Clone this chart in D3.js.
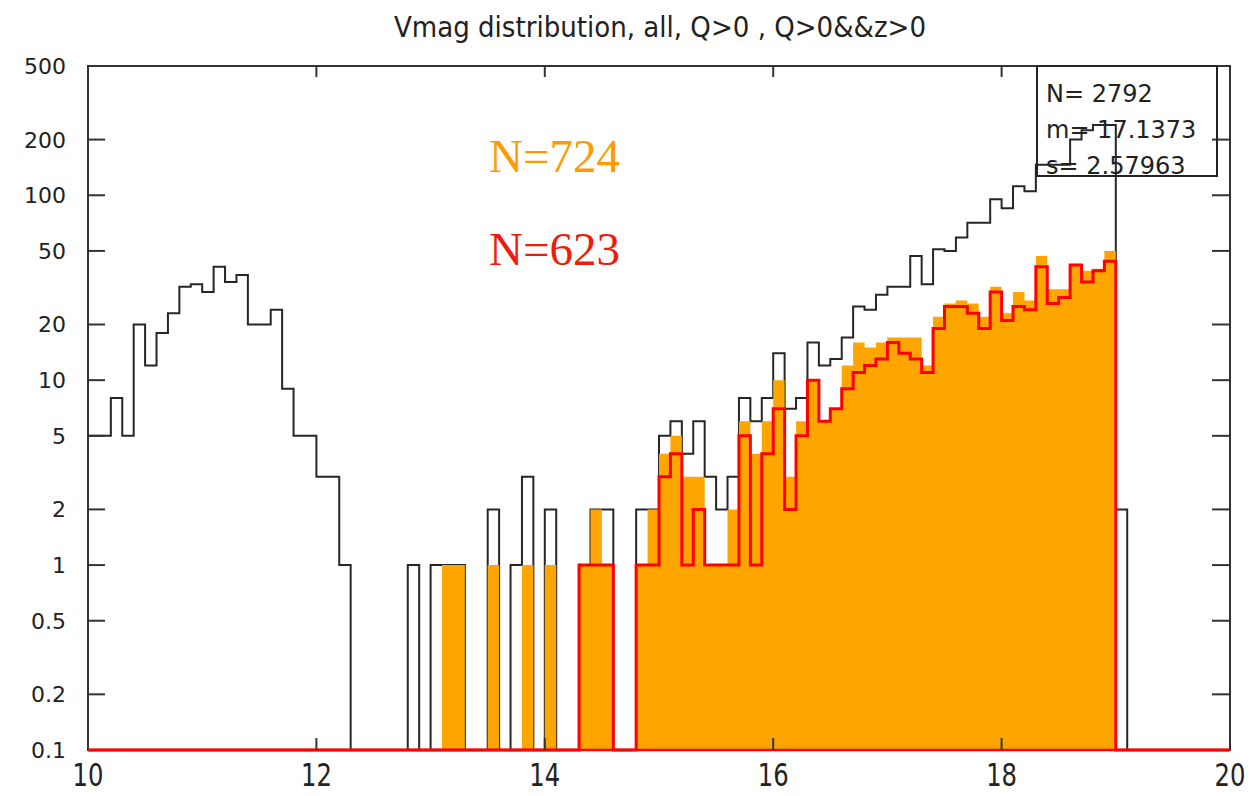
<!DOCTYPE html>
<html>
<head>
<meta charset="utf-8">
<script src="https://cdn.jsdelivr.net/npm/d3@7"></script>
<style>
  html, body { margin: 0; padding: 0; background: #fff; }
  svg { display: block; }
</style>
</head>
<body>
<svg id="chart" width="1250" height="796"></svg>
<script>
// ---------------- data ----------------
const titleText = "Vmag distribution, all, Q>0 , Q>0&&z>0";
const xMin = 10, xMax = 20, binWidth = 0.1;
const xTickValues = [10, 12, 14, 16, 18, 20];
const yTickValues = [0.1, 0.2, 0.5, 1, 2, 5, 10, 20, 50, 100, 200, 500];
const yTickLabels = ["0.1", "0.2", "0.5", "1", "2", "5", "10", "20", "50", "100", "200", "500"];

// counts per 0.1-mag bin, starting at 10.0 (100 bins)
const allCounts = [
  5, 5, 8, 5, 20, 12, 18, 23, 32, 33,      // 10.0-10.9
  30, 41, 34, 37, 20, 20, 24, 9, 5, 5,     // 11.0-11.9
  3, 3, 1, 0, 0, 0, 0, 0, 1, 0,            // 12.0-12.9
  1, 1, 1, 0, 0, 2, 0, 1, 3, 0,            // 13.0-13.9
  2, 0, 0, 1, 2, 2, 0, 0, 2, 2,            // 14.0-14.9
  5, 6, 4, 6, 3, 2, 3, 8, 6, 8,            // 15.0-15.9
  14, 7, 8, 16, 12, 13, 17, 25, 24, 29,    // 16.0-16.9
  32, 32, 47, 33, 51, 50, 59, 71, 71, 95,  // 17.0-17.9
  85, 112, 105, 146, 146, 146, 200, 225, 240, 240, // 18.0-18.9
  2, 0, 0, 0, 0, 0, 0, 0, 0, 0             // 19.0-19.9
];
const qCounts = [
  0, 0, 0, 0, 0, 0, 0, 0, 0, 0,
  0, 0, 0, 0, 0, 0, 0, 0, 0, 0,
  0, 0, 0, 0, 0, 0, 0, 0, 0, 0,
  0, 1, 1, 0, 0, 1, 0, 0, 1, 0,
  1, 0, 0, 1, 2, 1, 0, 0, 1, 2,
  4, 5, 3, 3, 1, 1, 2, 6, 4, 6,
  10, 3, 6, 10, 6, 7, 12, 16, 15, 16,
  17, 17, 17, 12, 22, 26, 27, 26, 22, 32,
  23, 30, 27, 47, 31, 31, 42, 39, 40, 50,
  0, 0, 0, 0, 0, 0, 0, 0, 0, 0
];
const qzCounts = [
  0, 0, 0, 0, 0, 0, 0, 0, 0, 0,
  0, 0, 0, 0, 0, 0, 0, 0, 0, 0,
  0, 0, 0, 0, 0, 0, 0, 0, 0, 0,
  0, 0, 0, 0, 0, 0, 0, 0, 0, 0,
  0, 0, 0, 1, 1, 1, 0, 0, 1, 1,
  3, 4, 1, 2, 1, 1, 1, 5, 1, 4,
  7, 2, 5, 10, 6, 7, 9, 11, 12, 13,
  16, 14, 13, 11, 19, 25, 25, 23, 19, 30,
  21, 25, 24, 41, 26, 28, 42, 34, 39, 44,
  0, 0, 0, 0, 0, 0, 0, 0, 0, 0
];
const statsLines = ["N= 2792", "m= 17.1373", "s= 2.57963"];
const annotations = [
  { text: "N=724", color: "#FF9A00" },
  { text: "N=623", color: "#EE1C0C" }
];

// ---------------- layout ----------------
const svg = d3.select("#chart");
const L = 88, R = 1230, T = 66, B = 750;
const x = d3.scaleLinear().domain([xMin, xMax]).range([L, R]);
const y = d3.scaleLog().domain([0.1, 500]).range([B, T]);
const yv = v => y(Math.max(v, 0.1));

const edges = allCounts.map((_, i) => xMin + i * binWidth);

function stepPoints(counts) {
  const pts = counts.map((c, i) => [edges[i], c]);
  pts.push([xMin + counts.length * binWidth, counts[counts.length - 1]]);
  return pts;
}
const stepLine = d3.line().x(d => x(d[0])).y(d => yv(d[1])).curve(d3.curveStepAfter);
const stepArea = d3.area().x(d => x(d[0])).y0(B).y1(d => yv(d[1])).curve(d3.curveStepAfter);

// black histogram (all)
svg.append("path")
  .attr("d", stepLine(stepPoints(allCounts)))
  .attr("fill", "none").attr("stroke", "#262626").attr("stroke-width", 2);

// orange filled (Q>0)
svg.append("path")
  .attr("d", stepArea(stepPoints(qCounts)))
  .attr("fill", "#FFA500").attr("stroke", "none");

// red outline (Q>0&&z>0)
svg.append("path")
  .attr("d", stepLine(stepPoints(qzCounts)))
  .attr("fill", "none").attr("stroke", "#FF0000").attr("stroke-width", 3)
  .attr("stroke-linejoin", "miter");

// frame
svg.append("rect")
  .attr("x", L).attr("y", T).attr("width", R - L).attr("height", B - T)
  .attr("fill", "none").attr("stroke", "#333").attr("stroke-width", 2);
// red baseline on top of frame
svg.append("line").attr("x1", L).attr("x2", R).attr("y1", B).attr("y2", B)
  .attr("stroke", "#FF0000").attr("stroke-width", 2.5);

// y ticks (left and right, inward)
const yTicks = yTickValues.filter(v => v > 0.1 && v < 500);
svg.selectAll("line.ytl").data(yTicks).enter().append("line")
  .attr("x1", L).attr("x2", L + 17).attr("y1", d => y(d)).attr("y2", d => y(d))
  .attr("stroke", "#333").attr("stroke-width", 2);
svg.selectAll("line.ytr").data(yTicks).enter().append("line")
  .attr("x1", R - 18).attr("x2", R).attr("y1", d => y(d)).attr("y2", d => y(d))
  .attr("stroke", "#333").attr("stroke-width", 2);
// x ticks (top and bottom, inward)
const xTicks = xTickValues.filter(v => v > xMin && v < xMax);
svg.selectAll("line.xtb").data(xTicks).enter().append("line")
  .attr("x1", d => x(d)).attr("x2", d => x(d)).attr("y1", B).attr("y2", B - 12)
  .attr("stroke", "#333").attr("stroke-width", 2);
svg.selectAll("line.xtt").data(xTicks).enter().append("line")
  .attr("x1", d => x(d)).attr("x2", d => x(d)).attr("y1", T).attr("y2", T + 11)
  .attr("stroke", "#333").attr("stroke-width", 2);

// y labels
svg.selectAll("text.yl").data(yTickValues).enter().append("text")
  .attr("x", 66).attr("y", d => y(d)).attr("dy", "0.36em")
  .attr("text-anchor", "end")
  .attr("font-family", "DejaVu Sans").attr("font-size", 22).attr("fill", "#222")
  .text((d, i) => yTickLabels[i]);

// x labels
svg.selectAll("text.xl").data(xTickValues).enter().append("text")
  .attr("transform", d => `translate(${x(d)},786) scale(1,1.15)`)
  .attr("text-anchor", "middle")
  .attr("font-family", "DejaVu Sans Condensed, DejaVu Sans").attr("font-stretch", "condensed")
  .attr("font-size", 27).attr("fill", "#222")
  .text(d => d);

// title
svg.append("text")
  .attr("x", 660).attr("y", 37).attr("text-anchor", "middle")
  .attr("font-family", "DejaVu Sans Condensed, DejaVu Sans").attr("font-stretch", "condensed")
  .attr("font-size", 29).attr("fill", "#222")
  .text(titleText);

// stats box
svg.append("rect")
  .attr("x", 1037).attr("y", T).attr("width", 180).attr("height", 110)
  .attr("fill", "none").attr("stroke", "#222").attr("stroke-width", 2);
svg.selectAll("text.st").data(statsLines).enter().append("text")
  .attr("x", 1046).attr("y", (d, i) => 102 + i * 36)
  .attr("font-family", "DejaVu Sans").attr("font-size", 24).attr("fill", "#222")
  .text(d => d);

// annotations
svg.selectAll("text.ann").data(annotations).enter().append("text")
  .attr("x", 489).attr("y", (d, i) => 172 + i * 93)
  .attr("font-family", "Liberation Serif, Times New Roman, serif")
  .attr("font-size", 47).attr("fill", d => d.color)
  .text(d => d.text);
</script>
</body>
</html>
